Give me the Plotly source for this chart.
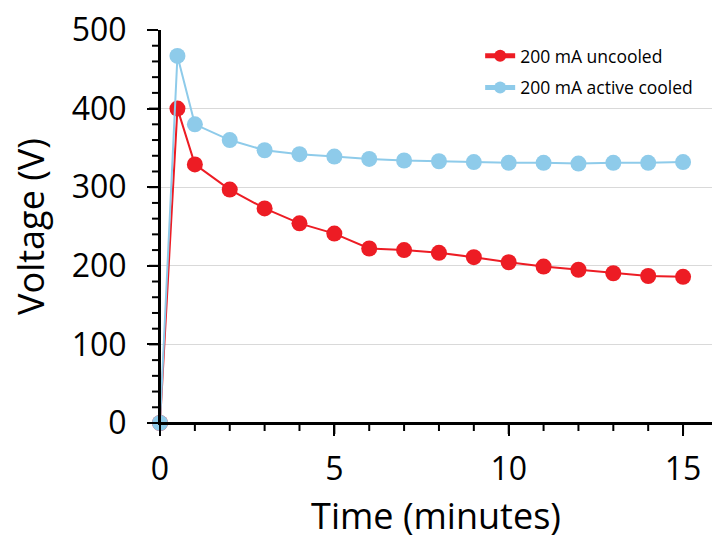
import numpy as np
import plotly.graph_objects as go

time_min = [0, 0.5, 1, 2, 3, 4, 5, 6, 7, 8, 9, 10, 11, 12, 13, 14, 15]
uncooled_v = [0, 400, 329, 297, 273, 254, 241, 222, 220, 216.5, 211, 204.5, 199, 195, 190.5, 187, 186]
cooled_v = [0, 467, 380, 360, 347, 342, 339, 336, 334, 333, 332, 331, 331, 330, 331, 331, 332]
series_names = ["200 mA uncooled", "200 mA active cooled"]
x_tick_vals = [0, 5, 10, 15]
y_tick_vals = [0, 100, 200, 300, 400, 500]

RED = "#ED1C24"
BLUE = "#8ECBEA"
FONT = "Open Sans"
X_RANGE = [0, 15.83]
Y_RANGE = [0, 500]

fig = go.Figure()
fig.add_trace(go.Scatter(x=time_min, y=uncooled_v, name=series_names[0], mode="lines+markers",
                         line=dict(color=RED, width=2), marker=dict(color=RED, size=16),
                         cliponaxis=False, legendgroup="a"))
fig.add_trace(go.Scatter(x=time_min, y=cooled_v, name=series_names[1], mode="lines+markers",
                         line=dict(color=BLUE, width=2), marker=dict(color=BLUE, size=16),
                         cliponaxis=False, legendgroup="b"))

# axis lines and tick marks drawn as shapes
axis_style = dict(color="#000000", width=2)
fig.add_shape(type="line", xref="paper", yref="paper", x0=0, x1=1, y0=0, y1=0, line=axis_style, layer="above")
fig.add_shape(type="line", xref="paper", yref="paper", x0=0, x1=0, y0=0, y1=1, line=axis_style, layer="above")
for xv in np.arange(0, 16, 1):
    length = 11 if xv % 5 == 0 else 8
    fig.add_shape(type="line", xref="x", yref="paper", ysizemode="pixel", yanchor=0,
                  x0=xv, x1=xv, y0=0, y1=-length, line=axis_style, layer="above")
for yv in np.arange(0, 501, 20):
    length = 11 if yv % 100 == 0 else 8
    fig.add_shape(type="line", xref="paper", yref="y", xsizemode="pixel", xanchor=0,
                  x0=0, x1=-length, y0=yv, y1=yv, line=axis_style, layer="above")

fig.update_layout(
    template="none",
    width=712, height=540,
    margin=dict(l=160, r=0, t=30, b=117),
    paper_bgcolor="white", plot_bgcolor="white",
    font=dict(family=FONT, color="black", size=32),
    showlegend=True,
    legend=dict(x=0.58, y=0.98, xanchor="left", yanchor="top",
                font=dict(family=FONT, size=17.5, color="black"),
                itemsizing="constant", traceorder="grouped", tracegroupgap=6,
                bgcolor="rgba(0,0,0,0)", borderwidth=0),
    xaxis=dict(range=X_RANGE, tickvals=x_tick_vals, ticktext=[str(v) for v in x_tick_vals],
               ticks="outside", ticklen=11, tickwidth=2, tickcolor="#000000",
               showline=True, linecolor="#000000", linewidth=2,
               showgrid=False, zeroline=False,
               tickfont=dict(size=32), ticklabelstandoff=6,
               title=dict(text="Time (minutes)", font=dict(size=36), standoff=16)),
    yaxis=dict(range=Y_RANGE, tickvals=y_tick_vals, ticktext=[str(v) for v in y_tick_vals],
               ticks="outside", ticklen=11, tickwidth=2, tickcolor="#000000",
               showline=True, linecolor="#000000", linewidth=2,
               showgrid=True, gridcolor="#D9D9D9", gridwidth=1, zeroline=False,
               tickfont=dict(size=32), ticklabelstandoff=14,
               title=dict(text="Voltage (V)", font=dict(size=36), standoff=16)),
)

fig.write_html("out.html")
